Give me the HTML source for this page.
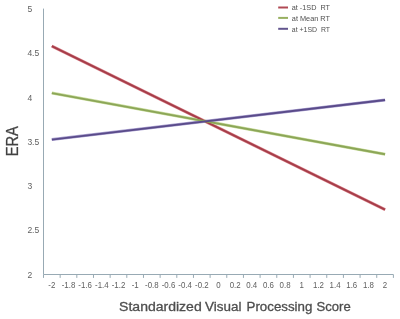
<!DOCTYPE html><html><head><meta charset="utf-8"><style>html,body{margin:0;padding:0;background:#fff;}svg{display:block;}.t{filter:grayscale(1);}text{font-family:"Liberation Sans",sans-serif;}</style></head><body>
<svg width="400" height="319" viewBox="0 0 400 319">
<defs><filter id="bl" x="-5%" y="-5%" width="110%" height="110%"><feGaussianBlur stdDeviation="0.35"/></filter></defs>
<rect width="400" height="319" fill="#fff"/>
<g filter="url(#bl)">
<line x1="43.5" y1="8.6" x2="43.5" y2="274.5" stroke="#98aab4" stroke-width="1.0"/>
<line x1="43.5" y1="274.5" x2="393.4" y2="274.5" stroke="#98aab4" stroke-width="1.0"/>
<line x1="43.50" y1="274.5" x2="43.50" y2="277.9" stroke="#98aab4" stroke-width="1"/>
<line x1="60.16" y1="274.5" x2="60.16" y2="277.9" stroke="#98aab4" stroke-width="1"/>
<line x1="76.82" y1="274.5" x2="76.82" y2="277.9" stroke="#98aab4" stroke-width="1"/>
<line x1="93.49" y1="274.5" x2="93.49" y2="277.9" stroke="#98aab4" stroke-width="1"/>
<line x1="110.15" y1="274.5" x2="110.15" y2="277.9" stroke="#98aab4" stroke-width="1"/>
<line x1="126.81" y1="274.5" x2="126.81" y2="277.9" stroke="#98aab4" stroke-width="1"/>
<line x1="143.47" y1="274.5" x2="143.47" y2="277.9" stroke="#98aab4" stroke-width="1"/>
<line x1="160.13" y1="274.5" x2="160.13" y2="277.9" stroke="#98aab4" stroke-width="1"/>
<line x1="176.80" y1="274.5" x2="176.80" y2="277.9" stroke="#98aab4" stroke-width="1"/>
<line x1="193.46" y1="274.5" x2="193.46" y2="277.9" stroke="#98aab4" stroke-width="1"/>
<line x1="210.12" y1="274.5" x2="210.12" y2="277.9" stroke="#98aab4" stroke-width="1"/>
<line x1="226.78" y1="274.5" x2="226.78" y2="277.9" stroke="#98aab4" stroke-width="1"/>
<line x1="243.44" y1="274.5" x2="243.44" y2="277.9" stroke="#98aab4" stroke-width="1"/>
<line x1="260.10" y1="274.5" x2="260.10" y2="277.9" stroke="#98aab4" stroke-width="1"/>
<line x1="276.77" y1="274.5" x2="276.77" y2="277.9" stroke="#98aab4" stroke-width="1"/>
<line x1="293.43" y1="274.5" x2="293.43" y2="277.9" stroke="#98aab4" stroke-width="1"/>
<line x1="310.09" y1="274.5" x2="310.09" y2="277.9" stroke="#98aab4" stroke-width="1"/>
<line x1="326.75" y1="274.5" x2="326.75" y2="277.9" stroke="#98aab4" stroke-width="1"/>
<line x1="343.41" y1="274.5" x2="343.41" y2="277.9" stroke="#98aab4" stroke-width="1"/>
<line x1="360.08" y1="274.5" x2="360.08" y2="277.9" stroke="#98aab4" stroke-width="1"/>
<line x1="376.74" y1="274.5" x2="376.74" y2="277.9" stroke="#98aab4" stroke-width="1"/>
<line x1="393.40" y1="274.5" x2="393.40" y2="277.9" stroke="#98aab4" stroke-width="1"/>
<text class="t" x="27.4" y="12.20" font-size="8.5" fill="#606060">5</text>
<text class="t" x="27.4" y="56.42" font-size="8.5" fill="#606060">4.5</text>
<text class="t" x="27.4" y="100.63" font-size="8.5" fill="#606060">4</text>
<text class="t" x="27.4" y="144.85" font-size="8.5" fill="#606060">3.5</text>
<text class="t" x="27.4" y="189.07" font-size="8.5" fill="#606060">3</text>
<text class="t" x="27.4" y="233.28" font-size="8.5" fill="#606060">2.5</text>
<text class="t" x="27.4" y="277.50" font-size="8.5" fill="#606060">2</text>
<text class="t" transform="translate(51.83,288) scale(0.93,1)" font-size="8.5" fill="#606060" text-anchor="middle">-2</text>
<text class="t" transform="translate(68.49,288) scale(0.93,1)" font-size="8.5" fill="#606060" text-anchor="middle">-1.8</text>
<text class="t" transform="translate(85.15,288) scale(0.93,1)" font-size="8.5" fill="#606060" text-anchor="middle">-1.6</text>
<text class="t" transform="translate(101.82,288) scale(0.93,1)" font-size="8.5" fill="#606060" text-anchor="middle">-1.4</text>
<text class="t" transform="translate(118.48,288) scale(0.93,1)" font-size="8.5" fill="#606060" text-anchor="middle">-1.2</text>
<text class="t" transform="translate(135.14,288) scale(0.93,1)" font-size="8.5" fill="#606060" text-anchor="middle">-1</text>
<text class="t" transform="translate(151.80,288) scale(0.93,1)" font-size="8.5" fill="#606060" text-anchor="middle">-0.8</text>
<text class="t" transform="translate(168.46,288) scale(0.93,1)" font-size="8.5" fill="#606060" text-anchor="middle">-0.6</text>
<text class="t" transform="translate(185.13,288) scale(0.93,1)" font-size="8.5" fill="#606060" text-anchor="middle">-0.4</text>
<text class="t" transform="translate(201.79,288) scale(0.93,1)" font-size="8.5" fill="#606060" text-anchor="middle">-0.2</text>
<text class="t" transform="translate(218.45,288) scale(0.93,1)" font-size="8.5" fill="#606060" text-anchor="middle">0</text>
<text class="t" transform="translate(235.11,288) scale(0.93,1)" font-size="8.5" fill="#606060" text-anchor="middle">0.2</text>
<text class="t" transform="translate(251.77,288) scale(0.93,1)" font-size="8.5" fill="#606060" text-anchor="middle">0.4</text>
<text class="t" transform="translate(268.44,288) scale(0.93,1)" font-size="8.5" fill="#606060" text-anchor="middle">0.6</text>
<text class="t" transform="translate(285.10,288) scale(0.93,1)" font-size="8.5" fill="#606060" text-anchor="middle">0.8</text>
<text class="t" transform="translate(301.76,288) scale(0.93,1)" font-size="8.5" fill="#606060" text-anchor="middle">1</text>
<text class="t" transform="translate(318.42,288) scale(0.93,1)" font-size="8.5" fill="#606060" text-anchor="middle">1.2</text>
<text class="t" transform="translate(335.08,288) scale(0.93,1)" font-size="8.5" fill="#606060" text-anchor="middle">1.4</text>
<text class="t" transform="translate(351.75,288) scale(0.93,1)" font-size="8.5" fill="#606060" text-anchor="middle">1.6</text>
<text class="t" transform="translate(368.41,288) scale(0.93,1)" font-size="8.5" fill="#606060" text-anchor="middle">1.8</text>
<text class="t" transform="translate(385.07,288) scale(0.93,1)" font-size="8.5" fill="#606060" text-anchor="middle">2</text>
<line x1="51.83" y1="46.10" x2="385.07" y2="209.70" stroke="#dc8890" stroke-width="3.0" stroke-linecap="butt"/>
<line x1="51.83" y1="93.10" x2="385.07" y2="154.30" stroke="#c8dc9c" stroke-width="3.0" stroke-linecap="butt"/>
<line x1="51.83" y1="139.60" x2="385.07" y2="100.00" stroke="#aaa0d0" stroke-width="3.0" stroke-linecap="butt"/>
<line x1="51.83" y1="46.10" x2="385.07" y2="209.70" stroke="#a63e4a" stroke-width="1.9" stroke-linecap="butt"/>
<line x1="51.83" y1="93.10" x2="385.07" y2="154.30" stroke="#8ca658" stroke-width="1.9" stroke-linecap="butt"/>
<line x1="51.83" y1="139.60" x2="385.07" y2="100.00" stroke="#5a4c8a" stroke-width="1.9" stroke-linecap="butt"/>
<line x1="278.2" y1="7.5" x2="288" y2="7.5" stroke="#b04a54" stroke-width="2"/>
<text class="t" x="291.8" y="10.3" font-size="7.9" fill="#505050" textLength="38.2" lengthAdjust="spacingAndGlyphs">at -1SD&#160; RT</text>
<line x1="278.2" y1="17.9" x2="288" y2="17.9" stroke="#98b060" stroke-width="2"/>
<text class="t" x="291.8" y="21.4" font-size="7.9" fill="#505050" textLength="38.2" lengthAdjust="spacingAndGlyphs">at Mean RT</text>
<line x1="278.2" y1="28.8" x2="288" y2="28.8" stroke="#62548e" stroke-width="2"/>
<text class="t" x="291.8" y="32.2" font-size="7.9" fill="#505050" textLength="38.2" lengthAdjust="spacingAndGlyphs">at +1SD&#160; RT</text>
<text class="t" transform="translate(17.6,141.2) rotate(-90)" font-size="16" fill="#424242" stroke="#424242" stroke-width="0.25" text-anchor="middle" textLength="30.2" lengthAdjust="spacingAndGlyphs">ERA</text>
<text class="t" x="119.1" y="310.7" font-size="12.5" fill="#4e4e4e" stroke="#4e4e4e" stroke-width="0.3" textLength="82.6" lengthAdjust="spacingAndGlyphs">Standardized</text>
<text class="t" x="205.1" y="310.7" font-size="12.5" fill="#4e4e4e" stroke="#4e4e4e" stroke-width="0.3" textLength="36.4" lengthAdjust="spacingAndGlyphs">Visual</text>
<text class="t" x="246.5" y="310.7" font-size="12.5" fill="#4e4e4e" stroke="#4e4e4e" stroke-width="0.3" textLength="65.9" lengthAdjust="spacingAndGlyphs">Processing</text>
<text class="t" x="316.5" y="310.7" font-size="12.5" fill="#4e4e4e" stroke="#4e4e4e" stroke-width="0.3" textLength="34.2" lengthAdjust="spacingAndGlyphs">Score</text>
</g>
</svg></body></html>
